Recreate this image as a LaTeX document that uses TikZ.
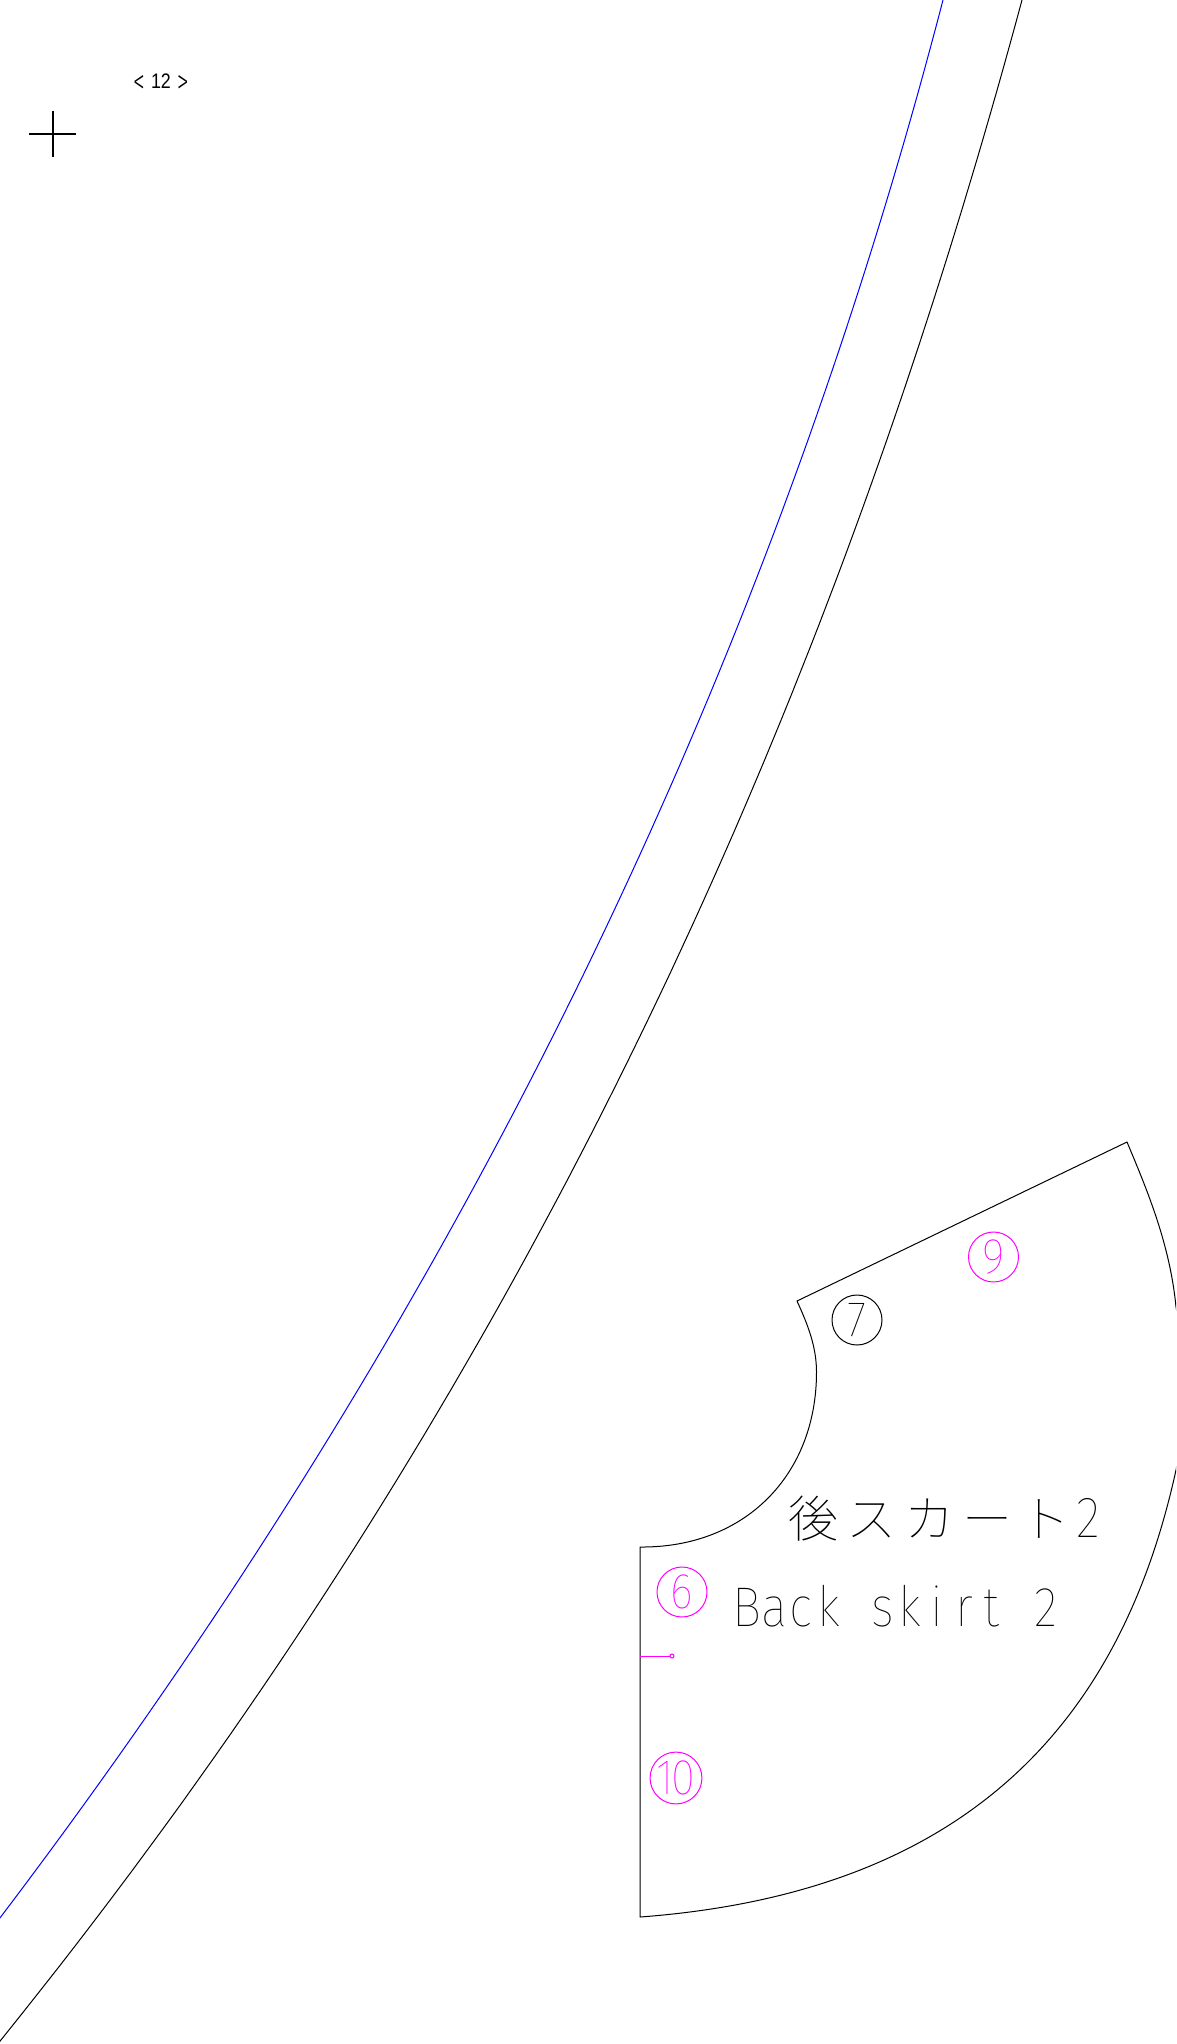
\documentclass[tikz,border=0pt]{standalone}
\usepackage{fontspec}
\newfontfamily\cjkthin{Noto Sans CJK JP Thin}
\newfontfamily\thinnarrow[FakeStretch=0.88]{Fira Sans Thin}
\newfontfamily\chevfont[FakeStretch=0.7]{Fira Sans Light}
\newfontfamily\pagefont[FakeStretch=0.85]{Liberation Sans}
\definecolor{pmag}{RGB}{255,0,255}
\definecolor{pblue}{RGB}{0,0,255}
\newcommand{\cc}[2][27.2pt]{\makebox[#1]{#2}}
\tikzset{
  ink/.style={draw=black,line width=1pt,line join=round},
  guide/.style={draw=pblue,line width=1pt},
  mag/.style={draw=pmag,line width=1pt},
  badge/.style={circle,draw,line width=1pt,minimum size=50pt,inner sep=0pt,font=\thinnarrow\fontsize{50}{50}\selectfont},
}
\begin{document}
\begin{tikzpicture}[x=1pt,y=-1pt]
\useasboundingbox (0,0) rectangle (1176,2044);
\fill[white] (0,0) rectangle (1176,2044);
\clip (0,0) rectangle (1176,2044);
\draw[guide] plot[domain=0:1.03,samples=90,variable=\u] ({943-2000*(0.2599*\u+0.2057*\u*\u+0.0376*\u*\u*\u)},{2000*\u});
\draw[ink] plot[domain=0:1.03,samples=90,variable=\u] ({1022-2000*(0.27*\u+0.1555*\u*\u+0.06633*\u*\u*\u+0.0028*\u*\u*\u*\u)},{2000*\u});
\draw[ink] (640,1547) -- (640,1917)
  .. controls (960,1893) and (1119,1730) .. (1176,1470)
  .. controls (1186,1420) and (1186,1360) .. (1176,1307)
  .. controls (1170,1245) and (1148,1192) .. (1127,1142)
  -- (797,1301)
  .. controls (808,1325) and (816.5,1347) .. (816.5,1372)
  .. controls (816.5,1475) and (745,1548) .. (640,1547) -- cycle;
\draw[line width=1.3pt] (29,134) -- (76,134) (53,111) -- (53,157);
\node[anchor=base,inner sep=0pt] (page) at (161,89) {\raisebox{-5pt}{\chevfont\fontsize{34}{34}\selectfont <}\hspace{6pt}{\pagefont\fontsize{21}{21}\selectfont 12}\hspace{6pt}\raisebox{-5pt}{\chevfont\fontsize{34}{34}\selectfont >}};
\node[badge,draw=black] (b7) at (857,1320) {7};
\node[badge,draw=pmag,text=pmag] (b9) at (993.5,1257) {9};
\node[badge,draw=pmag,text=pmag] (b6) at (682,1592) {6};
\node[badge,draw=pmag,text=pmag] (b10) at (676,1778) {1\hspace{-2pt}0};
\coordinate (n0) at (640,1656);
\coordinate (n1) at (672,1656);
\draw[mag] (n0) -- (n1);
\draw[mag,fill=white] (n1) circle (2pt);
\node[anchor=base,inner sep=0pt,font=\cjkthin\fontsize{50}{50}\selectfont] (ja) at (943,1537) {\cc[58pt]{後}\cc[58pt]{ス}\cc[58pt]{カ}\cc[58pt]{ー}\cc[58pt]{ト}\cc[28pt]{\thinnarrow\fontsize{58}{58}\selectfont 2}};
\node[anchor=base,inner sep=0pt,font=\thinnarrow\fontsize{56}{56}\selectfont] (en) at (896.5,1626) {\cc{B}\cc{a}\cc{c}\cc{k}\cc{ }\cc{s}\cc{k}\cc{i}\cc{r}\cc{t}\cc{ }\cc{2}};
\end{tikzpicture}
\end{document}
